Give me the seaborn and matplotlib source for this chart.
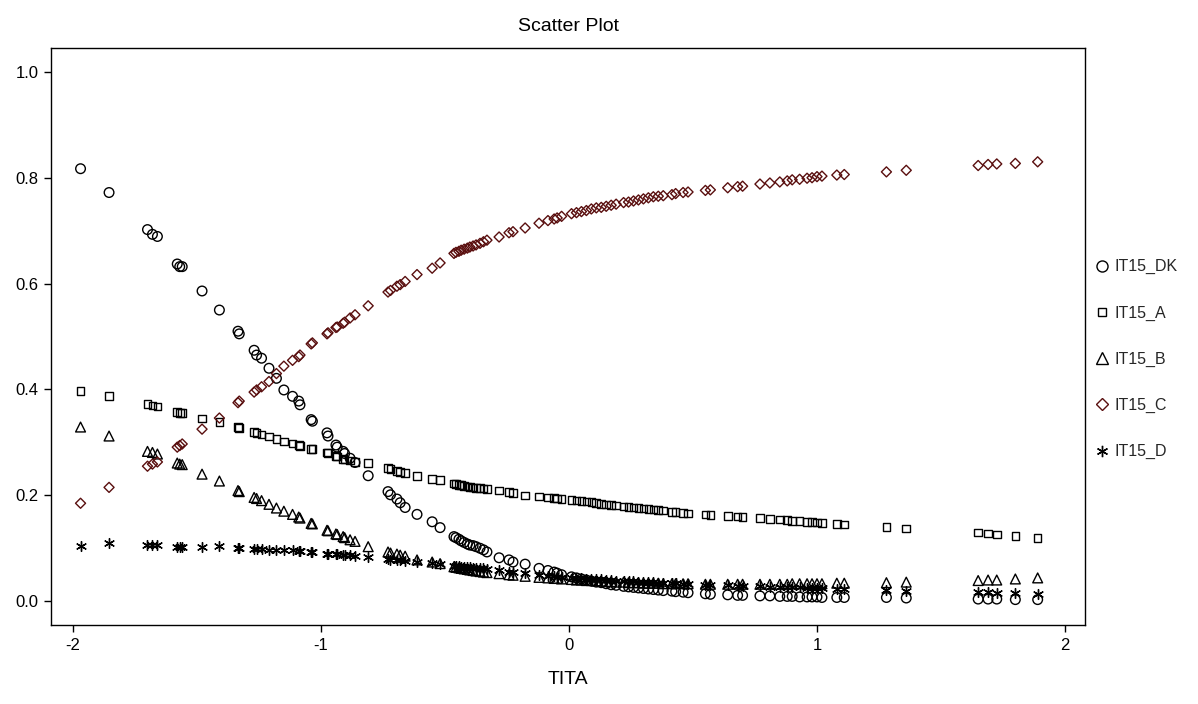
import matplotlib
matplotlib.use("Agg")
import matplotlib.pyplot as plt
from matplotlib.lines import Line2D
import seaborn as sns
import pandas as pd

theta = [
    -1.97, -1.855, -1.70, -1.68, -1.66, -1.58, -1.57, -1.56, -1.48, -1.41, -1.335, -1.33,
    -1.27, -1.26, -1.24, -1.21, -1.18, -1.15, -1.115, -1.09, -1.085, -1.04, -1.035, -0.976,
    -0.972, -0.94, -0.935, -0.911, -0.905, -0.883, -0.863, -0.81, -0.73, -0.72, -0.694, -0.681,
    -0.661, -0.613, -0.552, -0.52, -0.464, -0.456, -0.444, -0.435, -0.423, -0.41, -0.40, -0.387,
    -0.375, -0.359, -0.345, -0.331, -0.282, -0.242, -0.226, -0.177, -0.121, -0.085, -0.06, -0.048,
    -0.03, 0.01, 0.03, 0.05, 0.07, 0.09, 0.11, 0.13, 0.15, 0.17, 0.19, 0.22,
    0.24, 0.26, 0.28, 0.30, 0.32, 0.34, 0.36, 0.38, 0.415, 0.43, 0.46, 0.48,
    0.55, 0.57, 0.64, 0.68, 0.70, 0.77, 0.81, 0.85, 0.88, 0.90, 0.93, 0.96,
    0.98, 1.00, 1.02, 1.08, 1.11, 1.28, 1.36, 1.65, 1.69, 1.725, 1.80, 1.89,
]

it15_dk = [
    0.817, 0.772, 0.702, 0.693, 0.689, 0.637, 0.632, 0.632, 0.586, 0.550, 0.510, 0.505,
    0.474, 0.465, 0.459, 0.440, 0.421, 0.399, 0.387, 0.378, 0.371, 0.343, 0.340, 0.318,
    0.312, 0.295, 0.291, 0.283, 0.279, 0.270, 0.262, 0.237, 0.207, 0.201, 0.193, 0.186,
    0.177, 0.164, 0.150, 0.139, 0.122, 0.120, 0.117, 0.114, 0.111, 0.108, 0.106, 0.105,
    0.103, 0.100, 0.097, 0.093, 0.082, 0.078, 0.074, 0.070, 0.062, 0.058, 0.055, 0.053,
    0.050, 0.046, 0.044, 0.042, 0.040, 0.038, 0.036, 0.035, 0.033, 0.031, 0.030, 0.028,
    0.027, 0.026, 0.025, 0.024, 0.023, 0.022, 0.021, 0.020, 0.019, 0.018, 0.017, 0.016,
    0.014, 0.013, 0.012, 0.011, 0.011, 0.010, 0.010, 0.009, 0.009, 0.009, 0.008, 0.008,
    0.008, 0.008, 0.007, 0.007, 0.007, 0.007, 0.006, 0.004, 0.004, 0.004, 0.003, 0.003,
]

it15_a = [
    0.397, 0.388, 0.373, 0.370, 0.368, 0.357, 0.356, 0.355, 0.345, 0.339, 0.329, 0.327,
    0.320, 0.318, 0.315, 0.311, 0.306, 0.302, 0.298, 0.295, 0.293, 0.288, 0.287, 0.281,
    0.280, 0.274, 0.273, 0.269, 0.268, 0.266, 0.263, 0.261, 0.252, 0.250, 0.246, 0.244,
    0.242, 0.236, 0.231, 0.229, 0.222, 0.221, 0.220, 0.219, 0.218, 0.217, 0.216, 0.215,
    0.214, 0.214, 0.213, 0.212, 0.209, 0.206, 0.204, 0.200, 0.198, 0.196, 0.195, 0.194,
    0.193, 0.191, 0.190, 0.189, 0.188, 0.187, 0.185, 0.184, 0.183, 0.182, 0.181, 0.179,
    0.178, 0.177, 0.176, 0.175, 0.174, 0.173, 0.172, 0.171, 0.169, 0.168, 0.167, 0.166,
    0.164, 0.163, 0.161, 0.160, 0.159, 0.157, 0.155, 0.154, 0.153, 0.152, 0.151, 0.150,
    0.150, 0.149, 0.148, 0.146, 0.145, 0.140, 0.137, 0.130, 0.128, 0.126, 0.123, 0.119,
]

it15_b = [
    0.329, 0.312, 0.283, 0.281, 0.278, 0.261, 0.259, 0.258, 0.240, 0.227, 0.209, 0.207,
    0.196, 0.194, 0.190, 0.183, 0.176, 0.170, 0.164, 0.159, 0.157, 0.147, 0.146, 0.134,
    0.133, 0.127, 0.126, 0.122, 0.120, 0.116, 0.113, 0.103, 0.093, 0.091, 0.089, 0.087,
    0.085, 0.078, 0.074, 0.071, 0.065, 0.064, 0.063, 0.062, 0.061, 0.060, 0.059, 0.058,
    0.057, 0.056, 0.055, 0.054, 0.052, 0.050, 0.049, 0.047, 0.045, 0.044, 0.043, 0.043,
    0.042, 0.041, 0.040, 0.040, 0.039, 0.039, 0.038, 0.038, 0.037, 0.037, 0.036, 0.036,
    0.035, 0.035, 0.035, 0.034, 0.034, 0.034, 0.034, 0.033, 0.033, 0.033, 0.033, 0.033,
    0.032, 0.032, 0.032, 0.032, 0.032, 0.032, 0.032, 0.032, 0.032, 0.033, 0.033, 0.033,
    0.033, 0.033, 0.033, 0.034, 0.034, 0.035, 0.036, 0.039, 0.040, 0.040, 0.042, 0.044,
]

it15_c = [
    0.185, 0.215, 0.255, 0.259, 0.263, 0.291, 0.294, 0.297, 0.325, 0.346, 0.375, 0.378,
    0.395, 0.399, 0.405, 0.415, 0.430, 0.444, 0.455, 0.462, 0.465, 0.486, 0.488, 0.505,
    0.507, 0.517, 0.518, 0.525, 0.527, 0.535, 0.541, 0.558, 0.584, 0.587, 0.595, 0.598,
    0.604, 0.617, 0.629, 0.639, 0.657, 0.659, 0.661, 0.663, 0.665, 0.667, 0.669, 0.671,
    0.673, 0.676, 0.679, 0.682, 0.688, 0.696, 0.698, 0.705, 0.714, 0.719, 0.722, 0.724,
    0.727, 0.732, 0.734, 0.736, 0.738, 0.741, 0.743, 0.744, 0.746, 0.748, 0.750, 0.753,
    0.754, 0.756, 0.758, 0.760, 0.762, 0.764, 0.765, 0.766, 0.768, 0.770, 0.772, 0.773,
    0.776, 0.777, 0.781, 0.783, 0.784, 0.788, 0.790, 0.792, 0.794, 0.796, 0.797, 0.799,
    0.800, 0.802, 0.803, 0.805, 0.806, 0.811, 0.814, 0.823, 0.825, 0.826, 0.827, 0.830,
]

it15_d = [
    0.104, 0.110, 0.106, 0.107, 0.107, 0.103, 0.102, 0.103, 0.102, 0.105, 0.100, 0.100,
    0.099, 0.099, 0.098, 0.097, 0.097, 0.096, 0.096, 0.095, 0.095, 0.092, 0.092, 0.090,
    0.090, 0.089, 0.089, 0.088, 0.088, 0.087, 0.086, 0.084, 0.079, 0.078, 0.077, 0.077,
    0.076, 0.074, 0.072, 0.071, 0.067, 0.066, 0.066, 0.065, 0.065, 0.064, 0.064, 0.063,
    0.063, 0.062, 0.062, 0.061, 0.059, 0.056, 0.055, 0.053, 0.050, 0.048, 0.047, 0.046,
    0.045, 0.044, 0.043, 0.043, 0.042, 0.042, 0.041, 0.041, 0.040, 0.040, 0.039, 0.039,
    0.038, 0.038, 0.037, 0.037, 0.036, 0.036, 0.035, 0.035, 0.034, 0.034, 0.033, 0.033,
    0.031, 0.031, 0.030, 0.029, 0.029, 0.028, 0.027, 0.027, 0.026, 0.026, 0.026, 0.025,
    0.025, 0.025, 0.024, 0.023, 0.023, 0.021, 0.020, 0.017, 0.017, 0.016, 0.015, 0.014,
]

series_names = ["IT15_DK", "IT15_A", "IT15_B", "IT15_C", "IT15_D"]
series_values = [it15_dk, it15_a, it15_b, it15_c, it15_d]
x_ticks = [-2, -1, 0, 1, 2]
x_tick_labels = ["-2", "-1", "0", "1", "2"]
y_ticks = [0.0, 0.2, 0.4, 0.6, 0.8, 1.0]
y_tick_labels = ["0.0", "0.2", "0.4", "0.6", "0.8", "1.0"]

frames = [pd.DataFrame({"TITA": theta, "value": v, "item": n})
          for n, v in zip(series_names, series_values)]
df = pd.concat(frames, ignore_index=True)

sns.set_theme(style="white")
plt.rcParams["font.family"] = ["Liberation Sans", "DejaVu Sans"]

star6 = (6, 2, 0)
styles = {
    "IT15_DK": dict(marker="o", s=48, color="black", filled=True),
    "IT15_A": dict(marker="s", s=30, color="black", filled=True),
    "IT15_B": dict(marker="^", s=50, color="black", filled=True),
    "IT15_C": dict(marker="D", s=26, color="#5a0f0f", filled=True),
    "IT15_D": dict(marker=star6, s=50, color="black", filled=False),
}

fig = plt.figure(figsize=(11.98, 7.04), dpi=100)
ax = fig.add_axes([0.0426, 0.1122, 0.8631, 0.8196])

for name in series_names:
    st = styles[name]
    sub = df[df["item"] == name]
    if st["filled"]:
        sns.scatterplot(data=sub, x="TITA", y="value", ax=ax, marker=st["marker"],
                        s=st["s"], facecolor="none", edgecolor=st["color"],
                        linewidth=1.0, legend=False)
    else:
        sns.scatterplot(data=sub, x="TITA", y="value", ax=ax, marker=st["marker"],
                        s=st["s"], color=st["color"], linewidth=1.0, legend=False)

ax.set_xlim(-2.089, 2.081)
ax.set_ylim(-0.045, 1.045)
ax.set_xticks(x_ticks)
ax.set_xticklabels(x_tick_labels)
ax.set_yticks(y_ticks)
ax.set_yticklabels(y_tick_labels)
ax.tick_params(axis="both", direction="out", length=5, width=1, color="black",
               labelsize=12, labelcolor="black", bottom=True, left=True, pad=4)
for sp in ax.spines.values():
    sp.set_visible(True)
    sp.set_color("black")
    sp.set_linewidth(1.0)
ax.set_xlabel("TITA", fontsize=14, labelpad=13, color="black")
ax.set_ylabel("")
ax.set_title("Scatter Plot", fontsize=14, pad=12, color="black")
ax.grid(False)

handles = []
for name in series_names:
    st = styles[name]
    ms = (st["s"] ** 0.5) * 1.15
    if st["filled"]:
        h = Line2D([], [], linestyle="none", marker=st["marker"], markersize=ms,
                   markerfacecolor="none", markeredgecolor=st["color"], markeredgewidth=1.0)
    else:
        h = Line2D([], [], linestyle="none", marker=st["marker"], markersize=ms,
                   color=st["color"], markeredgewidth=1.0)
    handles.append(h)

fig.legend(handles, series_names, loc="upper left", bbox_to_anchor=(0.908, 0.641),
           frameon=False, fontsize=11.5, labelspacing=1.95, handletextpad=0.25,
           handlelength=1.0, borderaxespad=0)

fig.savefig("out.png", dpi=100, facecolor="white")
